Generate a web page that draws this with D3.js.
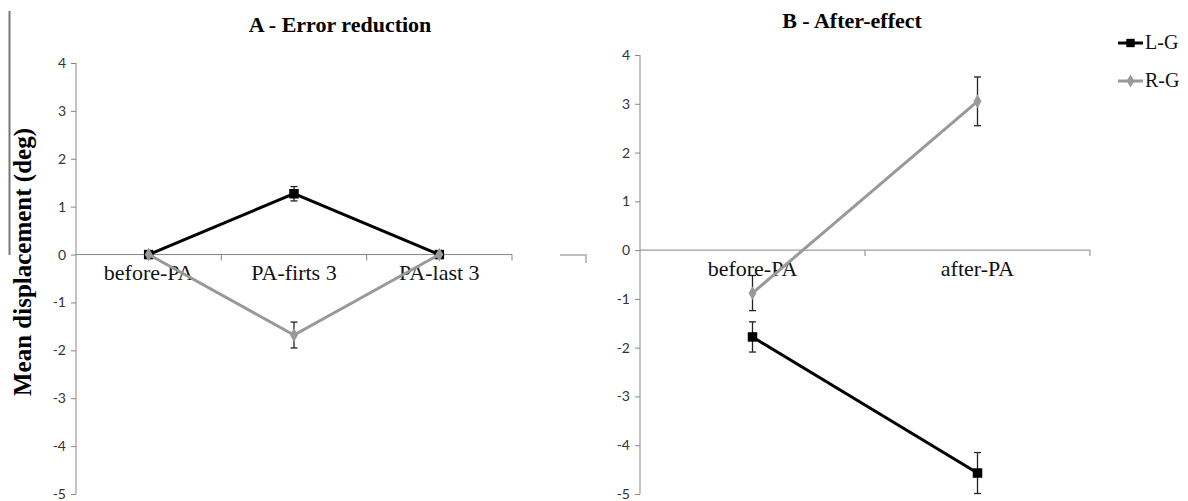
<!DOCTYPE html>
<html>
<head>
<meta charset="utf-8">
<script src="https://cdn.jsdelivr.net/npm/d3@7"></script>
<style>
  html, body { margin: 0; padding: 0; background: #fff; }
  svg { display: block; }
</style>
</head>
<body>
<div id="chart"></div>
<script>
// ---- data ----
const catsA = ["before-PA", "PA-firts 3", "PA-last 3"];
const lgA = [0, 1.27, 0];
const lgAErr = [0, 0.15, 0];
const rgA = [0, -1.68, 0];
const rgAErr = [0, 0.27, 0];

const catsB = ["before-PA", "after-PA"];
const lgB = [-1.78, -4.57];
const lgBErr = [0.31, 0.42];
const rgB = [-0.88, 3.05];
const rgBErr = [0.36, 0.5];

const yTicks = [-5, -4, -3, -2, -1, 0, 1, 2, 3, 4];
const seriesNames = ["L-G", "R-G"];

const W = 1188, H = 501;
const BLACK = "#000", GREY = "#999", AXIS = "#878787";
const SERIF = "'Liberation Serif', 'Times New Roman', serif";
const SANS = "Lato, 'Open Sans', sans-serif";

const svg = d3.select("#chart").append("svg")
  .attr("width", W).attr("height", H).attr("viewBox", `0 0 ${W} ${H}`);

// stray crop lines in the scanned figure
svg.append("line").attr("x1", 9.5).attr("x2", 9.5).attr("y1", 11).attr("y2", 255)
  .attr("stroke", "#777").attr("stroke-width", 2);
svg.append("polyline").attr("points", "560,255 586,255 586,263")
  .attr("fill", "none").attr("stroke", "#aaa").attr("stroke-width", 1.5);

// y label
svg.append("text")
  .attr("transform", "translate(31,262) rotate(-90)")
  .attr("text-anchor", "middle")
  .attr("font-family", SERIF).attr("font-weight", "bold").attr("font-size", 25)
  .text("Mean displacement (deg)");

function panel(opts) {
  const { cats, series, x0, x1, yTop, yBot, title, titleX, titleY, labelDy } = opts;
  const g = svg.append("g");
  const x = d3.scaleBand().domain(cats).range([x0, x1]);
  const y = d3.scaleLinear().domain([-5, 4]).range([yBot, yTop]);
  const zero = y(0);

  // y axis
  const ya = g.append("g").attr("transform", `translate(${x0},0)`)
    .call(d3.axisLeft(y).tickValues(yTicks).tickSize(5).tickPadding(5).tickFormat(d => String(d)));
  ya.select(".domain").attr("stroke", AXIS).attr("d", `M0,${yBot}V${yTop}`);
  ya.selectAll(".tick line").attr("stroke", AXIS);
  ya.selectAll(".tick text").attr("fill", "#333").attr("font-family", SANS).attr("font-size", 14);

  // x axis at zero
  const xa = g.append("g").attr("transform", `translate(0,${zero})`)
    .call(d3.axisBottom(x).tickSize(0).tickPadding(labelDy));
  xa.select(".domain").attr("stroke", AXIS).attr("d", `M${x0},0H${x1}`);
  xa.selectAll(".tick text").attr("fill", "#111").attr("font-family", SERIF).attr("font-size", 22);
  xa.selectAll(".bound").data(cats).join("line").attr("class", "bound")
    .attr("x1", d => x(d) + x.bandwidth()).attr("x2", d => x(d) + x.bandwidth())
    .attr("y1", 0).attr("y2", 6).attr("stroke", AXIS);

  // title
  svg.append("text").attr("x", titleX).attr("y", titleY).attr("text-anchor", "middle")
    .attr("font-family", SERIF).attr("font-weight", "bold").attr("font-size", 22)
    .text(title);

  const cx = d => x(d) + x.bandwidth() / 2;
  series.forEach(s => {
    const pts = cats.map((c, i) => ({ c, v: s.vals[i], e: s.err[i] }));
    g.append("path").datum(pts)
      .attr("d", d3.line().x(d => cx(d.c)).y(d => y(d.v)))
      .attr("fill", "none").attr("stroke", s.color).attr("stroke-width", 3);
    const eb = g.append("g").attr("stroke", "#222").attr("stroke-width", 1.3);
    pts.filter(d => d.e > 0).forEach(d => {
      eb.append("line").attr("x1", cx(d.c)).attr("x2", cx(d.c))
        .attr("y1", y(d.v + d.e)).attr("y2", y(d.v - d.e));
      [d.v + d.e, d.v - d.e].forEach(v => eb.append("line")
        .attr("x1", cx(d.c) - 3.5).attr("x2", cx(d.c) + 3.5).attr("y1", y(v)).attr("y2", y(v)));
    });
    g.append("g").selectAll("path").data(pts).join("path")
      .attr("transform", d => `translate(${cx(d.c)},${y(d.v)})`)
      .attr("d", d3.symbol().type(s.symbol).size(s.symbol === d3.symbolSquare ? 90 : 55))
      .attr("fill", s.color);
  });
}

panel({
  cats: catsA, x0: 76, x1: 512, yTop: 63, yBot: 494,
  title: "A - Error reduction", titleX: 340, titleY: 32, labelDy: 10,
  series: [
    { vals: lgA, err: lgAErr, color: BLACK, symbol: d3.symbolSquare },
    { vals: rgA, err: rgAErr, color: GREY, symbol: d3.symbolDiamond }
  ]
});

panel({
  cats: catsB, x0: 640, x1: 1090, yTop: 55, yBot: 494,
  title: "B - After-effect", titleX: 852, titleY: 28, labelDy: 10,
  series: [
    { vals: lgB, err: lgBErr, color: BLACK, symbol: d3.symbolSquare },
    { vals: rgB, err: rgBErr, color: GREY, symbol: d3.symbolDiamond }
  ]
});

// legend
const legend = svg.append("g").attr("transform", "translate(1118,43)");
const legendStyle = [
  { color: BLACK, symbol: d3.symbolSquare },
  { color: GREY, symbol: d3.symbolDiamond }
];
seriesNames.forEach((name, i) => {
  const row = legend.append("g").attr("transform", `translate(0,${i * 38})`);
  row.append("line").attr("x1", 0).attr("x2", 25).attr("stroke", legendStyle[i].color).attr("stroke-width", 3);
  row.append("path").attr("transform", "translate(12.5,0)")
    .attr("d", d3.symbol().type(legendStyle[i].symbol).size(i === 0 ? 70 : 50))
    .attr("fill", legendStyle[i].color);
  row.append("text").attr("x", 27).attr("y", 6)
    .attr("font-family", SERIF).attr("font-size", 20).attr("fill", "#111").text(name);
});
</script>
</body>
</html>
